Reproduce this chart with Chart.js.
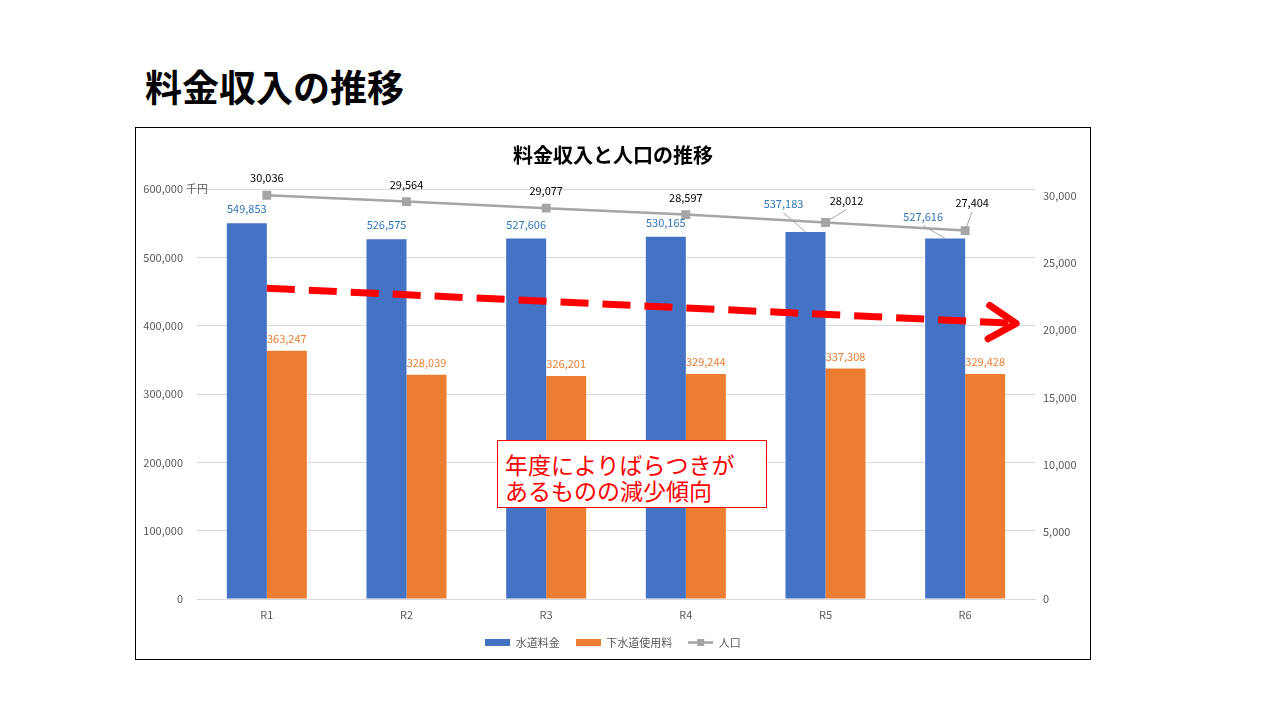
<!DOCTYPE html>
<html>
<head>
<meta charset="utf-8">
<script src="https://cdn.jsdelivr.net/npm/chart.js@4.4.1/dist/chart.umd.min.js"></script>
<style>
    body { margin: 0; width: 1280px; height: 720px; background: #fff; position: relative; overflow: hidden; font-family: "Noto Sans CJK JP", sans-serif; }
    #heading { position: absolute; left: 145px; top: 68px; font-size: 37px; font-weight: bold; line-height: 1; color: #000; }
    #frame { position: absolute; left: 135px; top: 127px; width: 956px; height: 533px; box-sizing: border-box; border: 1px solid #000; }
    #chartWrap { position: absolute; left: 136px; top: 128px; width: 954px; height: 531px; }
    #note { position: absolute; left: 497px; top: 440px; width: 270px; height: 68px; box-sizing: border-box; border: 1px solid #ff0000; background: #fff; color: #ff0000; font-size: 23px; line-height: 26px; padding: 10px 0 0 7px; white-space: nowrap; }
</style>
</head>
<body>
<div id="heading">料金収入の推移</div>
<div id="frame"></div>
<div id="chartWrap"><canvas id="chart" width="954" height="531"></canvas></div>
<div id="note">年度によりばらつきが<br>あるものの減少傾向</div>

<script>
// Data
const categories = ['R1', 'R2', 'R3', 'R4', 'R5', 'R6'];
const waterCharges = [549853, 526575, 527606, 530165, 537183, 527616];   // 水道料金 (千円)
const sewerCharges = [363247, 328039, 326201, 329244, 337308, 329428];   // 下水道使用料 (千円)
const population = [30036, 29564, 29077, 28597, 28012, 27404];          // 人口
const seriesNames = ['水道料金', '下水道使用料', '人口'];
const rightTicks = [0, 5000, 10000, 15000, 20000, 25000, 30000];

// Trend arrow drawn on top: [category index, left-axis value]
const trendStart = [0, 454800];
const trendEnd = [5.365, 403400];

const FONT = '"Noto Sans CJK JP", sans-serif';
const BLUE = '#4472C4';
const ORANGE = '#ED7D31';
const GRAY = '#A5A5A5';

// Label styles per dataset, and moved labels (with leader lines)
const labelStyles = [
    { color: '#2E75B6', dy: -14 },
    { color: '#ED7D31', dy: -12 },
    { color: '#000000', dy: -17 }
];
const labelOffsets = {
    0: { 4: [-22, -28], 5: [-22, -22] },
    2: { 4: [21, -22], 5: [7, -28] }
};

function makeIcon(kind, color) {
    const c = document.createElement('canvas');
    c.width = 25;
    c.height = 9;
    const g = c.getContext('2d');
    if (kind === 'box') {
        g.fillStyle = color;
        g.fillRect(0, 1, 25, 7);
    } else {
        g.strokeStyle = color;
        g.lineWidth = 2.5;
        g.beginPath();
        g.moveTo(0, 4.5);
        g.lineTo(25, 4.5);
        g.stroke();
        g.fillStyle = color;
        g.fillRect(9, 1, 7, 7);
    }
    return c;
}
const legendIcons = [makeIcon('box', BLUE), makeIcon('box', ORANGE), makeIcon('line', GRAY)];

const valueLabels = {
    id: 'valueLabels',
    afterDatasetsDraw(chart) {
        const ctx = chart.ctx;
        ctx.save();
        ctx.font = '11px ' + FONT;
        ctx.textAlign = 'center';
        ctx.textBaseline = 'middle';
        chart.data.datasets.forEach((ds, di) => {
            const meta = chart.getDatasetMeta(di);
            meta.data.forEach((el, i) => {
                const moved = labelOffsets[di] && labelOffsets[di][i];
                const off = moved || [0, labelStyles[di].dy];
                const lx = el.x + off[0];
                const ly = el.y + off[1];
                if (moved) {
                    ctx.strokeStyle = '#A6A6A6';
                    ctx.lineWidth = 1;
                    ctx.beginPath();
                    ctx.moveTo(el.x, el.y);
                    ctx.lineTo(lx, ly + 9);
                    ctx.stroke();
                }
                ctx.fillStyle = labelStyles[di].color;
                ctx.fillText(ds.data[i].toLocaleString('en-US'), lx, ly);
            });
        });
        ctx.restore();
    }
};

const extras = {
    id: 'extras',
    afterDraw(chart) {
        const ctx = chart.ctx;
        const x = chart.scales.x;
        const y = chart.scales.y;

        // unit next to the top tick
        ctx.save();
        ctx.font = '11px ' + FONT;
        ctx.fillStyle = '#595959';
        ctx.textAlign = 'left';
        ctx.textBaseline = 'middle';
        ctx.fillText('千円', y.right - 11, y.getPixelForValue(600000));

        // red dashed trend arrow
        const x0 = x.getPixelForValue(trendStart[0]);
        const y0 = y.getPixelForValue(trendStart[1]);
        const x1 = x.getPixelForValue(trendEnd[0]);
        const y1 = y.getPixelForValue(trendEnd[1]);
        const ang = Math.atan2(y1 - y0, x1 - x0);
        ctx.strokeStyle = '#FF0000';
        ctx.lineWidth = 7;
        ctx.setLineDash([28, 14]);
        ctx.beginPath();
        ctx.moveTo(x0, y0);
        ctx.lineTo(x1 - 6 * Math.cos(ang), y1 - 6 * Math.sin(ang));
        ctx.stroke();
        ctx.setLineDash([]);
        ctx.lineCap = 'round';
        ctx.lineJoin = 'round';
        const head = 32;
        ctx.beginPath();
        ctx.moveTo(x1 - head * Math.cos(ang - 0.55), y1 - head * Math.sin(ang - 0.55));
        ctx.lineTo(x1, y1);
        ctx.lineTo(x1 - head * Math.cos(ang + 0.55), y1 - head * Math.sin(ang + 0.55));
        ctx.stroke();
        ctx.restore();
    }
};

new Chart(document.getElementById('chart'), {
    data: {
        labels: categories,
        datasets: [
            {
                type: 'bar',
                label: seriesNames[0],
                data: waterCharges,
                backgroundColor: BLUE,
                yAxisID: 'y',
                order: 1,
                categoryPercentage: 0.573,
                barPercentage: 1.0
            },
            {
                type: 'bar',
                label: seriesNames[1],
                data: sewerCharges,
                backgroundColor: ORANGE,
                yAxisID: 'y',
                order: 1,
                categoryPercentage: 0.573,
                barPercentage: 1.0
            },
            {
                type: 'line',
                label: seriesNames[2],
                data: population,
                borderColor: GRAY,
                backgroundColor: GRAY,
                borderWidth: 2.5,
                pointStyle: 'rect',
                pointRadius: 4.5,
                pointBackgroundColor: GRAY,
                pointBorderColor: GRAY,
                yAxisID: 'y1',
                order: 0
            }
        ]
    },
    options: {
        responsive: false,
        animation: false,
        devicePixelRatio: 1,
        layout: { padding: { left: 0, right: 0, top: 0, bottom: 1 } },
        plugins: {
            title: {
                display: true,
                text: '料金収入と人口の推移',
                color: '#000',
                font: { family: FONT, size: 20, weight: 'bold' },
                padding: { top: 15, bottom: 22 }
            },
            legend: {
                position: 'bottom',
                labels: {
                    color: '#595959',
                    font: { family: FONT, size: 11 },
                    usePointStyle: true,
                    pointStyleWidth: 25,
                    boxHeight: 9,
                    padding: 16,
                    sort: (a, b) => a.datasetIndex - b.datasetIndex,
                    generateLabels(chart) {
                        const items = Chart.defaults.plugins.legend.labels.generateLabels(chart);
                        items.forEach(it => { it.pointStyle = legendIcons[it.datasetIndex]; });
                        return items;
                    }
                }
            },
            tooltip: { enabled: false }
        },
        scales: {
            x: {
                type: 'category',
                offset: true,
                grid: { display: false, drawTicks: false },
                border: { color: '#D9D9D9' },
                ticks: { color: '#595959', font: { family: FONT, size: 11 }, padding: 9 },
                afterFit(scale) { scale.height = 22; }
            },
            y: {
                position: 'left',
                min: 0,
                max: 600000,
                grid: { color: '#D9D9D9', drawTicks: false },
                border: { display: false },
                ticks: {
                    stepSize: 100000,
                    color: '#595959',
                    font: { family: FONT, size: 11 },
                    padding: 14,
                    callback: v => v.toLocaleString('en-US')
                },
                afterFit(scale) { scale.width = 61; }
            },
            y1: {
                position: 'right',
                min: 0,
                max: 30500,
                grid: { display: false, drawTicks: false },
                border: { display: false },
                ticks: {
                    autoSkip: false,
                    color: '#595959',
                    font: { family: FONT, size: 11 },
                    padding: 8,
                    callback: v => v.toLocaleString('en-US')
                },
                afterBuildTicks(scale) {
                    scale.ticks = rightTicks.map(v => ({ value: v }));
                },
                afterFit(scale) { scale.width = 55; }
            }
        }
    },
    plugins: [valueLabels, extras]
});
</script>
</body>
</html>
